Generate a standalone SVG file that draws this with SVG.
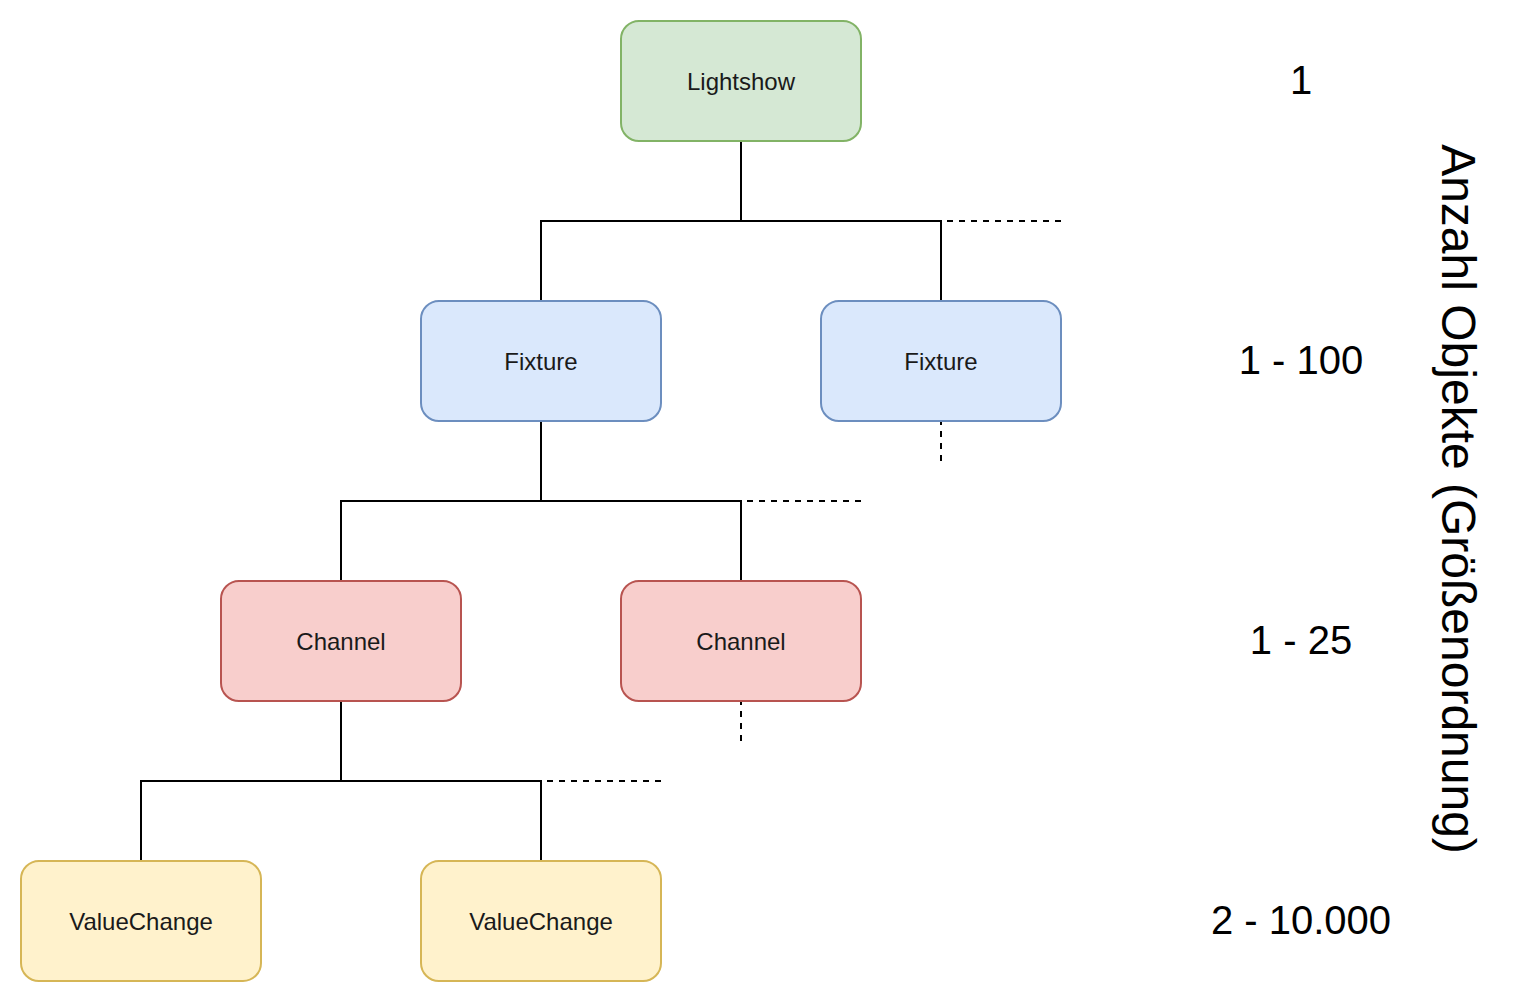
<svg xmlns="http://www.w3.org/2000/svg" width="1522" height="1002" viewBox="0 0 1522 1002">
<style>
.box{stroke-width:2}
.green{fill:#d5e8d4;stroke:#82b366}
.blue{fill:#dae8fc;stroke:#6c8ebf}
.red{fill:#f8cecc;stroke:#b85450}
.yellow{fill:#fff2cc;stroke:#d6b656}
.lbl{font-family:"Liberation Sans",Arial,sans-serif;font-size:24px;fill:#1a1a1a;text-anchor:middle}
.num{font-family:"Liberation Sans",Arial,sans-serif;font-size:40px;fill:#000;text-anchor:middle}
.side{font-family:"Liberation Sans",Arial,sans-serif;font-size:48px;fill:#000;text-anchor:middle}
.solid{fill:none;stroke:#000;stroke-width:2}
.dash{fill:none;stroke:#000;stroke-width:2;stroke-dasharray:6 6}
</style>
<rect width="1522" height="1002" fill="#ffffff"/>
<g id="connectors">
<path class="solid" d="M741 141V221M541 301V221H941V301"/>
<path class="dash" d="M1061 221H941M941 461V421"/>
<path class="solid" d="M541 421V501M341 581V501H741V581"/>
<path class="dash" d="M861 501H741M741 741V701"/>
<path class="solid" d="M341 701V781M141 861V781H541V861"/>
<path class="dash" d="M661 781H541"/>
</g>
<g id="lightshow"><rect class="box green" x="621" y="21" width="240" height="120" rx="18"/><text class="lbl" x="741" y="90">Lightshow</text></g>
<g id="fixture1"><rect class="box blue" x="421" y="301" width="240" height="120" rx="18"/><text class="lbl" x="541" y="370">Fixture</text></g>
<g id="fixture2"><rect class="box blue" x="821" y="301" width="240" height="120" rx="18"/><text class="lbl" x="941" y="370">Fixture</text></g>
<g id="channel1"><rect class="box red" x="221" y="581" width="240" height="120" rx="18"/><text class="lbl" x="341" y="650">Channel</text></g>
<g id="channel2"><rect class="box red" x="621" y="581" width="240" height="120" rx="18"/><text class="lbl" x="741" y="650">Channel</text></g>
<g id="valuechange1"><rect class="box yellow" x="21" y="861" width="240" height="120" rx="18"/><text class="lbl" x="141" y="930">ValueChange</text></g>
<g id="valuechange2"><rect class="box yellow" x="421" y="861" width="240" height="120" rx="18"/><text class="lbl" x="541" y="930">ValueChange</text></g>
<g id="counts">
<text class="num" x="1301" y="94">1</text>
<text class="num" x="1301" y="374">1 - 100</text>
<text class="num" x="1301" y="654">1 - 25</text>
<text class="num" x="1301" y="934">2 - 10.000</text>
</g>
<g id="axis-label"><text class="side" transform="translate(1442 499) rotate(90)">Anzahl Objekte (Größenordnung)</text></g>
</svg>
